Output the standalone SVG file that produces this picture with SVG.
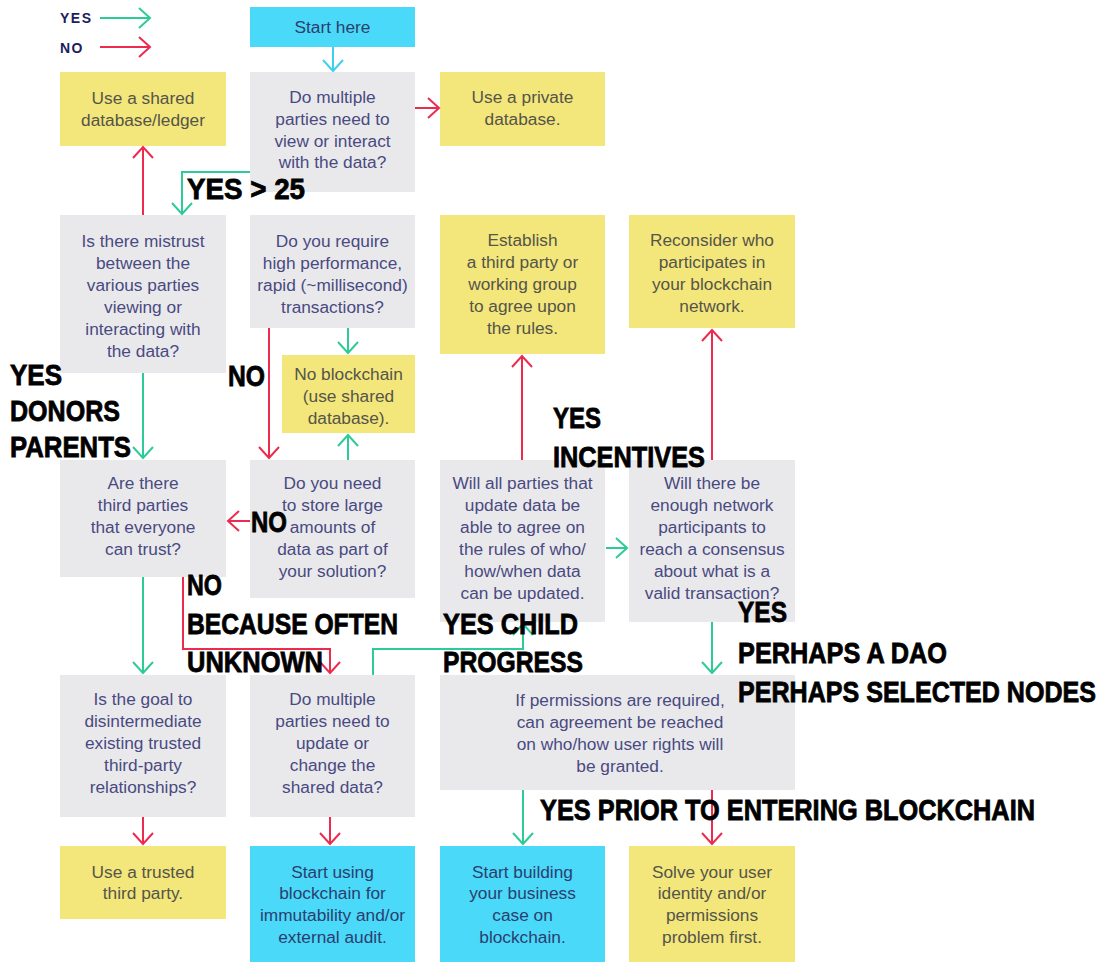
<svg xmlns="http://www.w3.org/2000/svg" width="1106" height="962" viewBox="0 0 1106 962">
<style>
.g{fill:#e9e9eb}
.y{fill:#f3e67b}
.c{fill:#4ad9f8}
.t{font-family:"Liberation Sans","Helvetica",sans-serif;font-size:17.3px;text-anchor:middle}
.tg{fill:#4a4a82}
.ty{fill:#55554a}
.tc{fill:#2a3f70}
.ln{fill:none;stroke-width:2}
.gr{stroke:#2dcb97}
.rd{stroke:#ec2b4f}
.cy{stroke:#3fd0f0}
.ann{font-family:"Liberation Sans Narrow","Liberation Sans",sans-serif;font-weight:bold;font-size:30px;fill:#000;stroke:#000;stroke-width:0.8}
.leg{font-family:"Liberation Sans",sans-serif;font-weight:bold;font-size:14px;fill:#1d1d5e;letter-spacing:1.5px}
</style>
<defs>
<marker id="ag" markerUnits="userSpaceOnUse" viewBox="-13 -12 15 24" refX="0" refY="0" markerWidth="15" markerHeight="24" orient="auto"><path d="M-11,-10 L0,0 L-11,10" fill="none" stroke="#2dcb97" stroke-width="2"/></marker>
<marker id="ar" markerUnits="userSpaceOnUse" viewBox="-13 -12 15 24" refX="0" refY="0" markerWidth="15" markerHeight="24" orient="auto"><path d="M-11,-10 L0,0 L-11,10" fill="none" stroke="#ec2b4f" stroke-width="2"/></marker>
<marker id="ac" markerUnits="userSpaceOnUse" viewBox="-13 -12 15 24" refX="0" refY="0" markerWidth="15" markerHeight="24" orient="auto"><path d="M-11,-10 L0,0 L-11,10" fill="none" stroke="#3fd0f0" stroke-width="2"/></marker>
</defs>
<rect width="1106" height="962" fill="#fff"/>

<g id="legend">
<text class="leg" x="60" y="23">YES</text>
<text class="leg" x="60" y="53">NO</text>
</g>

<g id="n-start"><rect class="c" x="250" y="7" width="165" height="40"/><text class="t tc" x="332.5" y="33">Start here</text></g>
<g id="n-shared"><rect class="y" x="60" y="72" width="166" height="74"/><text class="t ty" x="143" y="104">Use a shared</text><text class="t ty" x="143" y="126">database/ledger</text></g>
<g id="n-q1"><rect class="g" x="250" y="72" width="165" height="120"/><text class="t tg" x="332.5" y="103">Do multiple</text><text class="t tg" x="332.5" y="125">parties need to</text><text class="t tg" x="332.5" y="147">view or interact</text><text class="t tg" x="332.5" y="168">with the data?</text></g>
<g id="n-private"><rect class="y" x="440" y="72" width="165" height="74"/><text class="t ty" x="522.5" y="103">Use a private</text><text class="t ty" x="522.5" y="125">database.</text></g>

<g id="n-mistrust"><rect class="g" x="60" y="215" width="166" height="158"/><text class="t tg" x="143" y="247">Is there mistrust</text><text class="t tg" x="143" y="269">between the</text><text class="t tg" x="143" y="291">various parties</text><text class="t tg" x="143" y="313">viewing or</text><text class="t tg" x="143" y="335">interacting with</text><text class="t tg" x="143" y="357">the data?</text></g>
<g id="n-perf"><rect class="g" x="250" y="215" width="165" height="113"/><text class="t tg" x="332.5" y="247">Do you require</text><text class="t tg" x="332.5" y="269">high performance,</text><text class="t tg" x="332.5" y="291">rapid (~millisecond)</text><text class="t tg" x="332.5" y="313">transactions?</text></g>
<g id="n-noblock"><rect class="y" x="282" y="355" width="133" height="78"/><text class="t ty" x="348.5" y="380">No blockchain</text><text class="t ty" x="348.5" y="402">(use shared</text><text class="t ty" x="348.5" y="424">database).</text></g>
<g id="n-establish"><rect class="y" x="440" y="215" width="165" height="139"/><text class="t ty" x="522.5" y="246">Establish</text><text class="t ty" x="522.5" y="268">a third party or</text><text class="t ty" x="522.5" y="290">working group</text><text class="t ty" x="522.5" y="312">to agree upon</text><text class="t ty" x="522.5" y="334">the rules.</text></g>
<g id="n-reconsider"><rect class="y" x="629" y="215" width="166" height="113"/><text class="t ty" x="712" y="246">Reconsider who</text><text class="t ty" x="712" y="268">participates in</text><text class="t ty" x="712" y="290">your blockchain</text><text class="t ty" x="712" y="312">network.</text></g>

<g id="n-third"><rect class="g" x="60" y="460" width="166" height="117"/><text class="t tg" x="143" y="489">Are there</text><text class="t tg" x="143" y="511">third parties</text><text class="t tg" x="143" y="533">that everyone</text><text class="t tg" x="143" y="555">can trust?</text></g>
<g id="n-store"><rect class="g" x="250" y="460" width="165" height="138"/><text class="t tg" x="332.5" y="489">Do you need</text><text class="t tg" x="332.5" y="511">to store large</text><text class="t tg" x="332.5" y="533">amounts of</text><text class="t tg" x="332.5" y="555">data as part of</text><text class="t tg" x="332.5" y="577">your solution?</text></g>
<g id="n-agree"><rect class="g" x="440" y="460" width="165" height="162"/><text class="t tg" x="522.5" y="489">Will all parties that</text><text class="t tg" x="522.5" y="511">update data be</text><text class="t tg" x="522.5" y="533">able to agree on</text><text class="t tg" x="522.5" y="555">the rules of who/</text><text class="t tg" x="522.5" y="577">how/when data</text><text class="t tg" x="522.5" y="599">can be updated.</text></g>
<g id="n-enough"><rect class="g" x="629" y="460" width="166" height="162"/><text class="t tg" x="712" y="489">Will there be</text><text class="t tg" x="712" y="511">enough network</text><text class="t tg" x="712" y="533">participants to</text><text class="t tg" x="712" y="555">reach a consensus</text><text class="t tg" x="712" y="577">about what is a</text><text class="t tg" x="712" y="599">valid transaction?</text></g>

<g id="n-goal"><rect class="g" x="60" y="675" width="166" height="142"/><text class="t tg" x="143" y="705">Is the goal to</text><text class="t tg" x="143" y="727">disintermediate</text><text class="t tg" x="143" y="749">existing trusted</text><text class="t tg" x="143" y="771">third-party</text><text class="t tg" x="143" y="793">relationships?</text></g>
<g id="n-update"><rect class="g" x="250" y="675" width="165" height="142"/><text class="t tg" x="332.5" y="705">Do multiple</text><text class="t tg" x="332.5" y="727">parties need to</text><text class="t tg" x="332.5" y="749">update or</text><text class="t tg" x="332.5" y="771">change the</text><text class="t tg" x="332.5" y="793">shared data?</text></g>
<g id="n-perm"><rect class="g" x="440" y="675" width="355" height="115"/><text class="t tg" x="620" y="706">If permissions are required,</text><text class="t tg" x="620" y="728">can agreement be reached</text><text class="t tg" x="620" y="750">on who/how user rights will</text><text class="t tg" x="620" y="772">be granted.</text></g>

<g id="n-trusted"><rect class="y" x="60" y="846" width="166" height="73"/><text class="t ty" x="143" y="878">Use a trusted</text><text class="t ty" x="143" y="899">third party.</text></g>
<g id="n-immut"><rect class="c" x="250" y="846" width="165" height="116"/><text class="t tc" x="332.5" y="878">Start using</text><text class="t tc" x="332.5" y="899">blockchain for</text><text class="t tc" x="332.5" y="921">immutability and/or</text><text class="t tc" x="332.5" y="943">external audit.</text></g>
<g id="n-build"><rect class="c" x="440" y="846" width="165" height="116"/><text class="t tc" x="522.5" y="878">Start building</text><text class="t tc" x="522.5" y="899">your business</text><text class="t tc" x="522.5" y="921">case on</text><text class="t tc" x="522.5" y="943">blockchain.</text></g>
<g id="n-solve"><rect class="y" x="629" y="846" width="166" height="116"/><text class="t ty" x="712" y="878">Solve your user</text><text class="t ty" x="712" y="899">identity and/or</text><text class="t ty" x="712" y="921">permissions</text><text class="t ty" x="712" y="943">problem first.</text></g>

<g id="connectors">
<path class="ln gr" d="M100,18 H150" marker-end="url(#ag)"/>
<path class="ln rd" d="M100,47 H150" marker-end="url(#ar)"/>
<path class="ln cy" d="M333,47 V71" marker-end="url(#ac)"/>
<path class="ln rd" d="M415,108 H439" marker-end="url(#ar)"/>
<path class="ln gr" d="M250,172 H182 V214" marker-end="url(#ag)"/>
<path class="ln rd" d="M143,215 V147" marker-end="url(#ar)"/>
<path class="ln gr" d="M143,373 V458" marker-end="url(#ag)"/>
<path class="ln gr" d="M348,328 V353" marker-end="url(#ag)"/>
<path class="ln rd" d="M269,328 V458" marker-end="url(#ar)"/>
<path class="ln gr" d="M348,460 V435" marker-end="url(#ag)"/>
<path class="ln rd" d="M250,521 H228" marker-end="url(#ar)"/>
<path class="ln gr" d="M143,577 V673" marker-end="url(#ag)"/>
<path class="ln rd" d="M183,577 V649 H330 V673" marker-end="url(#ar)"/>
<path class="ln gr" d="M373,675 V649 H523 V624" marker-end="url(#ag)"/>
<path class="ln rd" d="M522,460 V356" marker-end="url(#ar)"/>
<path class="ln gr" d="M606,548 H627" marker-end="url(#ag)"/>
<path class="ln rd" d="M712,460 V330" marker-end="url(#ar)"/>
<path class="ln gr" d="M712,622 V673" marker-end="url(#ag)"/>
<path class="ln rd" d="M143,817 V844" marker-end="url(#ar)"/>
<path class="ln rd" d="M330,817 V844" marker-end="url(#ar)"/>
<path class="ln gr" d="M523,790 V844" marker-end="url(#ag)"/>
<path class="ln rd" d="M712,790 V844" marker-end="url(#ar)"/>
</g>

<g id="annotations">
<text class="ann" x="187" y="199" textLength="118" lengthAdjust="spacingAndGlyphs">YES &gt; 25</text>
<text class="ann" x="228" y="386" textLength="37" lengthAdjust="spacingAndGlyphs">NO</text>
<text class="ann" x="10" y="385" textLength="52" lengthAdjust="spacingAndGlyphs">YES</text>
<text class="ann" x="10" y="421" textLength="110" lengthAdjust="spacingAndGlyphs">DONORS</text>
<text class="ann" x="10" y="457" textLength="121" lengthAdjust="spacingAndGlyphs">PARENTS</text>
<text class="ann" x="553" y="428" textLength="48" lengthAdjust="spacingAndGlyphs">YES</text>
<text class="ann" x="553" y="467" textLength="152" lengthAdjust="spacingAndGlyphs">INCENTIVES</text>
<text class="ann" x="251" y="532" textLength="36" lengthAdjust="spacingAndGlyphs">NO</text>
<text class="ann" x="187" y="595" textLength="35" lengthAdjust="spacingAndGlyphs">NO</text>
<text class="ann" x="187" y="634" textLength="211" lengthAdjust="spacingAndGlyphs">BECAUSE OFTEN</text>
<text class="ann" x="187" y="672" textLength="136" lengthAdjust="spacingAndGlyphs">UNKNOWN</text>
<text class="ann" x="443" y="634" textLength="135" lengthAdjust="spacingAndGlyphs">YES CHILD</text>
<text class="ann" x="443" y="672" textLength="140" lengthAdjust="spacingAndGlyphs">PROGRESS</text>
<text class="ann" x="738" y="622" textLength="49" lengthAdjust="spacingAndGlyphs">YES</text>
<text class="ann" x="738" y="663" textLength="209" lengthAdjust="spacingAndGlyphs">PERHAPS A DAO</text>
<text class="ann" x="738" y="702" textLength="358" lengthAdjust="spacingAndGlyphs">PERHAPS SELECTED NODES</text>
<text class="ann" x="540" y="820" textLength="495" lengthAdjust="spacingAndGlyphs">YES PRIOR TO ENTERING BLOCKCHAIN</text>
</g>
</svg>
